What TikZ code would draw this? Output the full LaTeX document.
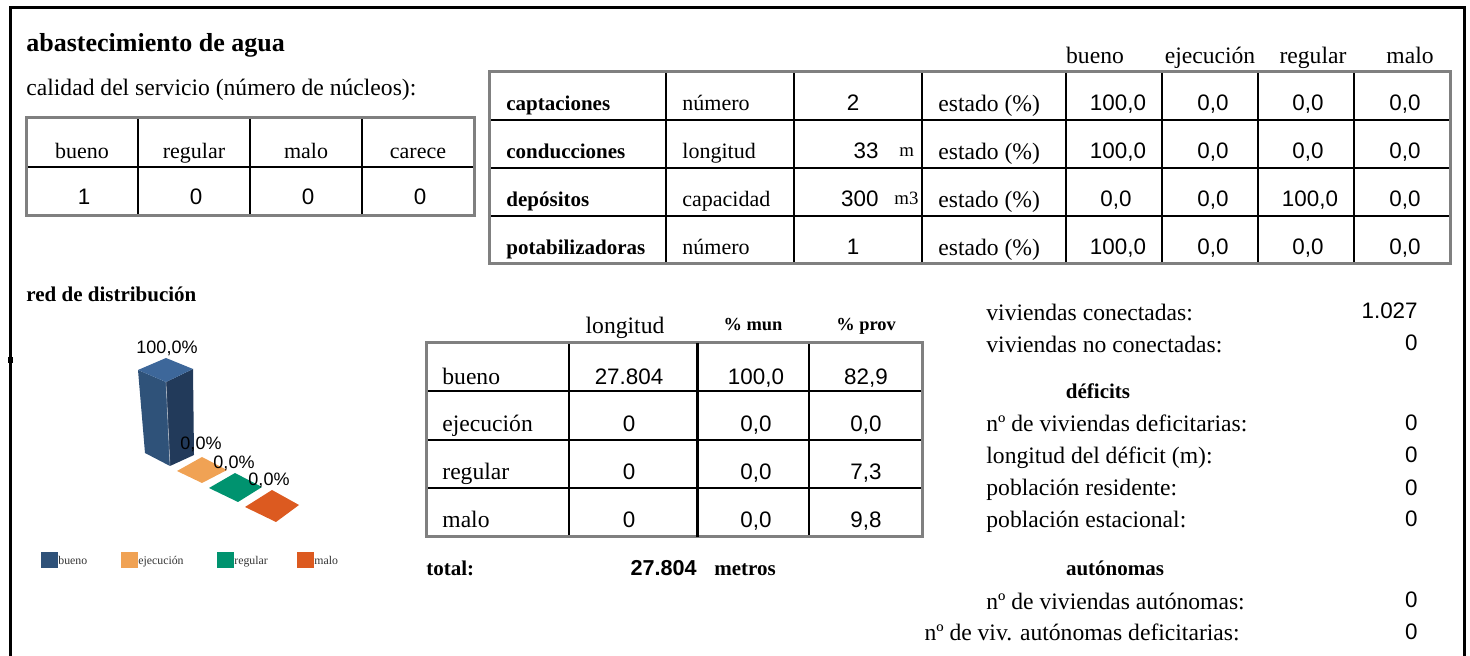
\documentclass[tikz,border=0pt]{standalone}
\usepackage{fontspec}
\setmainfont{Liberation Serif}
\newfontfamily\arial{Liberation Sans}
\definecolor{gridgray}{HTML}{808080}
\definecolor{barTop}{HTML}{3D679A}
\definecolor{barLeft}{HTML}{2F5279}
\definecolor{barRight}{HTML}{223A5A}
\definecolor{cEjec}{HTML}{F0A254}
\definecolor{cReg}{HTML}{00936F}
\definecolor{cMalo}{HTML}{DC5A20}
\begin{document}
\begin{tikzpicture}[x=0.5pt,y=-0.5pt,
  outer/.style={draw=gridgray,line width=1.5pt},
  inner/.style={draw=black,line width=0.75pt},
  thick mid/.style={draw=black,line width=1.5pt},
  txt/.style={inner sep=0pt,font=\fontsize{11.8}{13}\selectfont},
  stxt/.style={inner sep=0pt,font=\fontsize{11}{13}\selectfont},
  btxt/.style={inner sep=0pt,font=\bfseries\fontsize{10.5}{12}\selectfont},
  bsm/.style={inner sep=0pt,font=\bfseries\fontsize{9.2}{11}\selectfont},
  num/.style={inner sep=0pt,font=\arial\fontsize{11.2}{13}\selectfont},
  unit/.style={inner sep=0pt,font=\fontsize{9.4}{11}\selectfont,anchor=base west},
  lab/.style={inner sep=0pt,font=\arial\fontsize{9}{11}\selectfont,anchor=base},
  leg/.style={inner sep=0pt,font=\fontsize{5.9}{7}\selectfont,anchor=base west,text=black!80}]
\useasboundingbox (0,0) rectangle (1470,656);
% outer frame
\draw[line width=1.5pt] (10,656) -- (10,8) -- (1464,8) -- (1464,656);
\fill (8,357) rectangle (13,363);

% titles
\node[inner sep=0pt,font=\bfseries\fontsize{13}{15}\selectfont,anchor=base west] (title) at (26,52) {abastecimiento de agua};
\node[txt,anchor=base west] (calidad) at (26,96) {calidad del servicio (número de núcleos):};

% small table
\draw[inner] (26,167) -- (474,167);
\foreach \x in {138,250,362} \draw[inner] (\x,118) -- (\x,216);
\draw[outer] (26,118) rectangle (474,216);
\node[stxt,anchor=base] (hb) at (82,159) {bueno};
\node[stxt,anchor=base] (hr) at (194,159) {regular};
\node[stxt,anchor=base] (hm) at (306,159) {malo};
\node[stxt,anchor=base] (hc) at (418,159) {carece};
\node[num,anchor=base] (vb) at (84,205) {1};
\node[num,anchor=base] (vr) at (196,205) {0};
\node[num,anchor=base] (vm) at (308,205) {0};
\node[num,anchor=base] (vc) at (420,205) {0};

% big table headers
\node[txt,anchor=base] (Hb) at (1095,64) {bueno};
\node[txt,anchor=base] (He) at (1210,64) {ejecución};
\node[txt,anchor=base] (Hr) at (1313,64) {regular};
\node[txt,anchor=base] (Hm) at (1410,64) {malo};
% big table grid
\foreach \y in {120,168,216} \draw[inner] (489,\y) -- (1450,\y);
\foreach \x in {666,794,922,1066,1162,1258,1354} \draw[inner] (\x,72) -- (\x,264);
\draw[outer] (489,72) rectangle (1450,264);
% rows
\node[btxt,anchor=base west] (r1) at (506,111) {captaciones};
\node[btxt,anchor=base west] (r2) at (506,159) {conducciones};
\node[btxt,anchor=base west] (r3) at (506,207) {depósitos};
\node[btxt,anchor=base west] (r4) at (506,255) {potabilizadoras};
\node[stxt,anchor=base west] (m1) at (682,111) {número};
\node[stxt,anchor=base west] (m2) at (682,159) {longitud};
\node[stxt,anchor=base west] (m3) at (682,207) {capacidad};
\node[stxt,anchor=base west] (m4) at (682,255) {número};
\node[num,anchor=base] (n1) at (853,111) {2};
\node[num,anchor=base east] (n2) at (879,159) {33};
\node[unit] (u2) at (899,157) {m};
\node[num,anchor=base east] (n3) at (879,207) {300};
\node[unit] (u3) at (894,205) {m3};
\node[num,anchor=base] (n4) at (853,255) {1};
\foreach \y [count=\i] in {112,160,208,256}{
  \node[txt,anchor=base west] (est\i) at (938,\y) {estado (\%)};
}
\node[num,anchor=base] (a11) at (1118,111) {100,0};
\node[num,anchor=base] (a12) at (1213,111) {0,0};
\node[num,anchor=base] (a13) at (1308,111) {0,0};
\node[num,anchor=base] (a14) at (1405,111) {0,0};
\node[num,anchor=base] (a21) at (1118,159) {100,0};
\node[num,anchor=base] (a22) at (1213,159) {0,0};
\node[num,anchor=base] (a23) at (1308,159) {0,0};
\node[num,anchor=base] (a24) at (1405,159) {0,0};
\node[num,anchor=base] (a31) at (1116,207) {0,0};
\node[num,anchor=base] (a32) at (1213,207) {0,0};
\node[num,anchor=base] (a33) at (1310,207) {100,0};
\node[num,anchor=base] (a34) at (1405,207) {0,0};
\node[num,anchor=base] (a41) at (1118,255) {100,0};
\node[num,anchor=base] (a42) at (1213,255) {0,0};
\node[num,anchor=base] (a43) at (1308,255) {0,0};
\node[num,anchor=base] (a44) at (1405,255) {0,0};

% red de distribucion
\node[btxt,anchor=base west] (red) at (26,302) {red de distribución};
% chart
\fill[barLeft] (138,370) -- (166,382) -- (170,466) -- (145,453) -- cycle;
\fill[barRight] (166,382) -- (193,369) -- (194,455) -- (170,466) -- cycle;
\fill[barTop] (138,370) -- (166,358) -- (193,369) -- (166,382) -- cycle;
\draw[white,line width=0.3pt,opacity=0.5] (166,382) -- (170,466);
\fill[cEjec] (177,471) -- (202,457) -- (227,470) -- (202,483) -- cycle;
\fill[cReg] (209,488) -- (235,473) -- (262,487) -- (238,502) -- cycle;
\fill[cMalo] (245,507) -- (272,490) -- (299,505) -- (276,522) -- cycle;
\node[lab] (l1) at (167,354) {100,0\%};
\node[lab] (l2) at (201,450) {0,0\%};
\node[lab] (l3) at (234,469) {0,0\%};
\node[lab] (l4) at (269,486) {0,0\%};
% legend
\fill[barLeft] (41,552) rectangle (58,568);
\fill[cEjec] (121,552) rectangle (138,568);
\fill[cReg] (217,552) rectangle (234,568);
\fill[cMalo] (297,552) rectangle (314,568);
\node[leg] (g1) at (58,564) {bueno};
\node[leg] (g2) at (138,564) {ejecución};
\node[leg] (g3) at (234,564) {regular};
\node[leg] (g4) at (314,564) {malo};

% lower table
\node[txt,anchor=base] (Lh1) at (625,334) {longitud};
\node[bsm,anchor=base] (Lh2) at (753,331) {\% mun};
\node[bsm,anchor=base] (Lh3) at (866,331) {\% prov};
\foreach \y in {391,440,488} \draw[inner] (426,\y) -- (922,\y);
\foreach \x in {569,809} \draw[inner] (\x,343) -- (\x,537);
\draw[outer] (426,343) rectangle (922,537);
\draw[thick mid] (697,343) -- (697,537);
\node[txt,anchor=base west] (L1) at (442,385) {bueno};
\node[txt,anchor=base west] (L2) at (442,432) {ejecución};
\node[txt,anchor=base west] (L3) at (442,480) {regular};
\node[txt,anchor=base west] (L4) at (442,528) {malo};
\node[num,anchor=base] (b11) at (629,385) {27.804};
\node[num,anchor=base] (b12) at (756,385) {100,0};
\node[num,anchor=base] (b13) at (866,385) {82,9};
\node[num,anchor=base] (b21) at (629,432) {0};
\node[num,anchor=base] (b22) at (756,432) {0,0};
\node[num,anchor=base] (b23) at (866,432) {0,0};
\node[num,anchor=base] (b31) at (629,480) {0};
\node[num,anchor=base] (b32) at (756,480) {0,0};
\node[num,anchor=base] (b33) at (866,480) {7,3};
\node[num,anchor=base] (b41) at (629,528) {0};
\node[num,anchor=base] (b42) at (756,528) {0,0};
\node[num,anchor=base] (b43) at (866,528) {9,8};
\node[btxt,anchor=base west] (total) at (426,575) {total:};
\node[num,font=\arial\bfseries\fontsize{10.8}{13}\selectfont,anchor=base east] (tot) at (697,575) {27.804};
\node[btxt,anchor=base west] (metros) at (714,575) {metros};

% right list
\node[txt,anchor=base west] (k1) at (986,321) {viviendas conectadas:};
\node[txt,anchor=base west] (k2) at (986,353) {viviendas no conectadas:};
\node[btxt,anchor=base] (def) at (1098,399) {déficits};
\node[txt,anchor=base west] (k3) at (986,432) {nº de viviendas deficitarias:};
\node[txt,anchor=base west] (k4) at (986,464) {longitud del déficit (m):};
\node[txt,anchor=base west] (k5) at (986,496) {población residente:};
\node[txt,anchor=base west] (k6) at (986,528) {población estacional:};
\node[btxt,anchor=base] (aut) at (1115,575) {autónomas};
\node[txt,anchor=base west] (k7) at (986,609) {nº de viviendas autónomas:};
\node[txt,anchor=base east] (k8) at (1240,640) {nº de viv. autónomas deficitarias:};
\node[num,anchor=base east] (v1) at (1418,319) {1.027};
\node[num,anchor=base east] (v2) at (1418,351) {0};
\node[num,anchor=base east] (v3) at (1418,431) {0};
\node[num,anchor=base east] (v4) at (1418,463) {0};
\node[num,anchor=base east] (v5) at (1418,495) {0};
\node[num,anchor=base east] (v6) at (1418,527) {0};
\node[num,anchor=base east] (v7) at (1418,607) {0};
\node[num,anchor=base east] (v8) at (1418,639) {0};
\end{tikzpicture}
\end{document}
